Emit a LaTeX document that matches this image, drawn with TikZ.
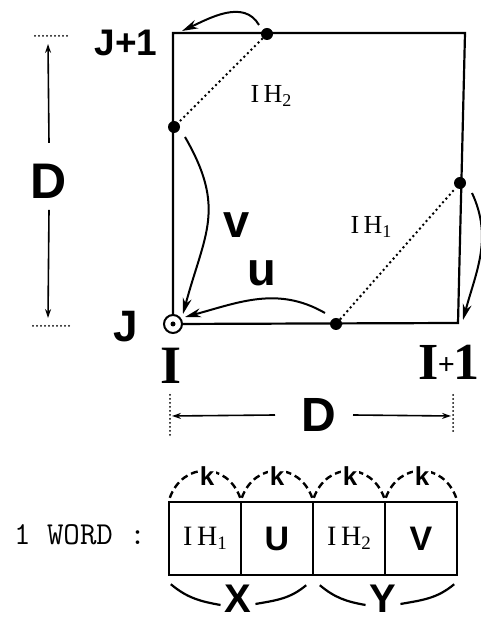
\documentclass[tikz,border=0pt]{standalone}
\usepackage{fontspec}
\setmainfont{Liberation Serif}
\setsansfont{Liberation Sans}
\usetikzlibrary{arrows.meta}
\begin{document}
\begin{tikzpicture}[x=1pt,y=1pt,line width=2.2pt,
  arr/.style={line width=2pt,-{Stealth[length=16pt,width=9pt]}},
  dimarr/.style={line width=1.6pt,-{Stealth[length=9pt,width=6pt]}},
  dotline/.style={line width=2.8pt,line cap=round,dash pattern=on 0pt off 5pt},
  smalldots/.style={line width=2pt,line cap=round,dash pattern=on 0pt off 4pt},
  kdash/.style={line width=2.4pt,dash pattern=on 7pt off 4pt},
  dotmark/.style={circle,fill,inner sep=0pt,minimum size=12pt},
  sfb/.style={font=\sffamily\bfseries\fontsize{#1}{#1}\selectfont,inner sep=0pt},
  serb/.style={font=\rmfamily\bfseries\fontsize{#1}{#1}\selectfont,inner sep=0pt},
  ser/.style={font=\rmfamily\fontsize{#1}{#1}\selectfont,inner sep=0pt},
  cell/.style={draw,line width=2.4pt,minimum width=72pt,minimum height=73pt,inner sep=0pt},
  knode/.style={sfb=26,fill=white,inner sep=2pt}]
\useasboundingbox (0,0) rectangle (481,623);
% square
\coordinate (TL) at (173,590);
\coordinate (TR) at (465,590);
\coordinate (BR) at (458,300);
\coordinate (BL) at (173,299);
\draw (TL) -- (TR) -- (BR) -- (BL) -- cycle;
% origin circle
\node[circle,draw,fill=white,line width=2pt,minimum size=18pt,inner sep=0pt] (o) at (BL) {};
\fill (o.center) circle (2.5pt);
% dots on the edges
\node[dotmark] (t) at (267,589) {};
\node[dotmark] (l) at (174,496) {};
\node[dotmark] (r) at (460,440) {};
\node[dotmark] (b) at (336,299) {};
\draw[dotline] (t) -- (l);
\draw[dotline] (b) -- (r);
% curved arrows
\coordinate (ta1) at (259,598); \coordinate (ta2) at (182,592);
\draw[arr] (ta1) to[out=120,in=25] (ta2);
\coordinate (va1) at (185,486); \coordinate (va2) at (183,309);
\draw[arr] (va1) to[out=-60,in=75,looseness=1.2] (va2);
\coordinate (ua1) at (325,310); \coordinate (ua2) at (185,306);
\draw[arr] (ua1) to[out=150,in=15] (ua2);
\coordinate (ra1) at (472,430); \coordinate (ra2) at (463,303);
\draw[arr] (ra1) to[out=-65,in=75] (ra2);
% labels in the square
\node[sfb=47] (vl) at (237,398) {v};
\node[sfb=47] (ul) at (262,350) {u};
\node[ser=26] (ih2) at (271,527) {I\,H{\fontsize{18}{18}\selectfont\raisebox{-4pt}{2}}};
\node[ser=26] (ih1) at (371,396) {I\,H{\fontsize{18}{18}\selectfont\raisebox{-4pt}{1}}};
% corner labels
\node[sfb=37] (jp1) at (126,580) {J+1};
\node[sfb=44] (j) at (126,296) {J};
\node[serb=54] (i) at (171,257) {I};
\node[serb=52,anchor=east] (ip1) at (481,261) {I\kern-1pt\raisebox{5pt}{\fontsize{30}{30}\selectfont+}\kern-1pt1};
% left dimension
\coordinate (lt1) at (35,587); \coordinate (lt2) at (68,587);
\coordinate (lb1) at (33,297); \coordinate (lb2) at (70,297);
\draw[smalldots] (lt1) -- (lt2);
\draw[smalldots] (lb1) -- (lb2);
\node[sfb=50] (dl) at (49,442) {D};
\coordinate (lat) at (48,579); \coordinate (lab) at (48,305);
\draw[dimarr] ([yshift=38pt]dl.center) -- (lat);
\draw[dimarr] ([yshift=-29pt]dl.center) -- (lab);
% bottom dimension
\coordinate (bl1) at (170,228); \coordinate (bl2) at (170,185);
\coordinate (br1) at (453,228); \coordinate (br2) at (453,191);
\draw[smalldots] (bl1) -- (bl2);
\draw[smalldots] (br1) -- (br2);
\node[sfb=48] (db) at (319,208) {D};
\coordinate (bal) at (172,207); \coordinate (bar) at (451,207);
\draw[dimarr] ([xshift=-44pt]db.center) -- (bal);
\draw[dimarr] ([xshift=34pt]db.center) -- (bar);
% word layout
\node[font=\ttfamily\fontsize{32}{32}\selectfont,inner sep=0pt] (word) at (80,88) {1 WORD :};
\node[cell,ser=28] (c1) at (205,84.5) {I\,H{\fontsize{19}{19}\selectfont\raisebox{-4pt}{1}}};
\node[cell,sfb=34] (c2) at (277,84.5) {U};
\node[cell,ser=28] (c3) at (349,84.5) {I\,H{\fontsize{19}{19}\selectfont\raisebox{-4pt}{2}}};
\node[cell,sfb=34] (c4) at (421,84.5) {V};
\foreach \c in {c1,c2,c3,c4}{
  \draw[kdash] ([shift={(2pt,3pt)}]\c.north west) to[out=70,in=110,looseness=1.4] ([shift={(-2pt,3pt)}]\c.north east);
}
\node[knode] (k1) at (207,147) {k};
\node[knode] (k2) at (277,147) {k};
\node[knode] (k3) at (350,147) {k};
\node[knode] (k4) at (422,147) {k};
% braces
\node[sfb=40] (X) at (238,24) {X};
\node[sfb=40] (Y) at (383,24) {Y};
\draw ([shift={(3pt,-8pt)}]c1.south west) to[out=-40,in=170] ([shift={(-3pt,-6pt)}]X.west);
\draw ([shift={(3pt,-5pt)}]X.east) to[out=10,in=-140] ([shift={(-8pt,-9pt)}]c2.south east);
\draw ([shift={(8pt,-9pt)}]c3.south west) to[out=-40,in=170] ([shift={(-3pt,-6pt)}]Y.west);
\draw ([shift={(3pt,-5pt)}]Y.east) to[out=10,in=-140] ([shift={(-4pt,-8pt)}]c4.south east);
\end{tikzpicture}
\end{document}
